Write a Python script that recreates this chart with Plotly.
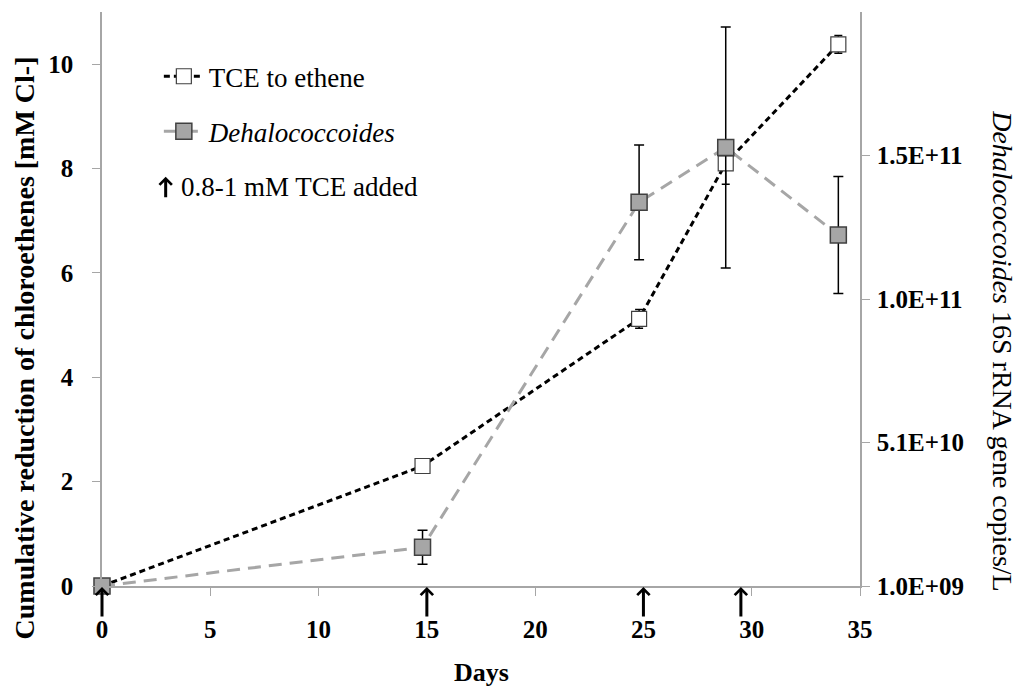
import plotly.graph_objects as go

# ---- data ----
days = [0, 14.8, 24.8, 28.8, 34]
tce_to_ethene = [0.0, 2.3, 5.12, 8.1, 10.38]
tce_err = [0.0, 0.12, 0.18, 0.4, 0.17]
dhc_copies = [1.0e9, 1.45e10, 1.347e11, 1.538e11, 1.233e11]
dhc_err = [0.0, 5.9e9, 2.0e10, 4.2e10, 2.04e10]
tce_added_days = [0, 15, 25, 29.5]

x_ticks = [0, 5, 10, 15, 20, 25, 30, 35]
y_ticks = [0, 2, 4, 6, 8, 10]
y2_tickvals = [1.0e9, 5.1e10, 1.01e11, 1.51e11]
y2_ticktext = ["1.0E+09", "5.1E+10", "1.0E+11", "1.5E+11"]

SERIF = "Liberation Serif, Times New Roman, DejaVu Serif, serif"
AXIS_GRAY = "#A6A6A6"

fig = go.Figure()

fig.add_trace(go.Scatter(
    x=days, y=tce_to_ethene, name="TCE to ethene", legendgroup="a",
    mode="lines+markers", cliponaxis=False,
    line=dict(color="black", width=3, dash="6px,4px"),
    marker=dict(symbol="square", size=15, color="white",
                line=dict(color="#404040", width=1.2)),
    error_y=dict(type="data", array=tce_err, color="black", thickness=1.5, width=4),
))

fig.add_trace(go.Scatter(
    x=days, y=dhc_copies, name="<i>Dehalococcoides</i>", legendgroup="b",
    yaxis="y2", mode="lines+markers", cliponaxis=False,
    line=dict(color="#A6A6A6", width=3, dash="13px,8px"),
    marker=dict(symbol="square", size=16, color="#A6A6A6",
                line=dict(color="#404040", width=1.5)),
    error_y=dict(type="data", array=dhc_err, color="black", thickness=1.5, width=5),
))

annotations = []
for d in tce_added_days:
    annotations.append(dict(
        x=d, y=0, xref="x", yref="y", ax=0, ay=32, axref="pixel", ayref="pixel",
        showarrow=True, arrowhead=4, arrowsize=0.8, arrowwidth=3, arrowcolor="black",
        text="", standoff=1,
    ))

# legend entry for the arrows
annotations.append(dict(
    x=0.084, y=0.713, xref="paper", yref="paper", ax=0, ay=22,
    showarrow=True, arrowhead=4, arrowsize=0.8, arrowwidth=3, arrowcolor="black", text="",
))
annotations.append(dict(
    x=0.102, y=0.695, xref="paper", yref="paper", xanchor="left", yanchor="middle",
    showarrow=False, text="0.8-1 mM TCE added",
    font=dict(family=SERIF, size=27, color="black"),
))
# axis titles
annotations.append(dict(
    x=-0.102, y=0.415, xref="paper", yref="paper", xanchor="center", yanchor="middle",
    showarrow=False, textangle=-90,
    text="<b>Cumulative reduction of chloroethenes [mM Cl-]</b>",
    font=dict(family=SERIF, size=28, color="black"),
))
annotations.append(dict(
    x=1.188, y=0.41, xref="paper", yref="paper", xanchor="center", yanchor="middle",
    showarrow=False, textangle=90,
    text="<i>Dehalococcoides</i> 16S rRNA gene copies/L",
    font=dict(family=SERIF, size=28, color="black"),
))
annotations.append(dict(
    x=0.5, y=-0.15, xref="paper", yref="paper", xanchor="center", yanchor="middle",
    showarrow=False, text="<b>Days</b>",
    font=dict(family=SERIF, size=26, color="black"),
))

fig.update_layout(
    width=1025, height=687,
    margin=dict(l=102, r=165, t=12, b=101),
    paper_bgcolor="white", plot_bgcolor="white",
    font=dict(family=SERIF, color="black"),
    showlegend=True,
    legend=dict(x=0.075, y=0.93, xanchor="left", yanchor="top",
                bgcolor="rgba(0,0,0,0)", tracegroupgap=17,
                font=dict(family=SERIF, size=27, color="black"),
                itemwidth=40),
    xaxis=dict(
        range=[0, 35], tickvals=x_ticks, showgrid=False, zeroline=False,
        showline=True, linecolor=AXIS_GRAY, linewidth=1.5, automargin=False,
        ticks="outside", ticklen=8, tickcolor=AXIS_GRAY, ticklabelstandoff=12,
        tickfont=dict(family=SERIF, size=25, color="black", weight="bold"),
    ),
    yaxis=dict(
        range=[0, 11], tickvals=y_ticks, showgrid=False, zeroline=False,
        showline=True, linecolor=AXIS_GRAY, linewidth=1.5, automargin=False,
        ticks="outside", ticklen=8, tickcolor=AXIS_GRAY, ticklabelstandoff=14,
        tickfont=dict(family=SERIF, size=25, color="black", weight="bold"),
    ),
    yaxis2=dict(
        range=[1.0e9, 2.01e11], overlaying="y", side="right",
        tickvals=y2_tickvals, ticktext=y2_ticktext, showgrid=False, zeroline=False,
        showline=True, linecolor=AXIS_GRAY, linewidth=1.5, automargin=False,
        ticks="outside", ticklen=8, tickcolor=AXIS_GRAY, ticklabelstandoff=2,
        tickfont=dict(family=SERIF, size=25, color="black", weight="bold"),
    ),
    annotations=annotations,
)

fig.write_html("out.html")
